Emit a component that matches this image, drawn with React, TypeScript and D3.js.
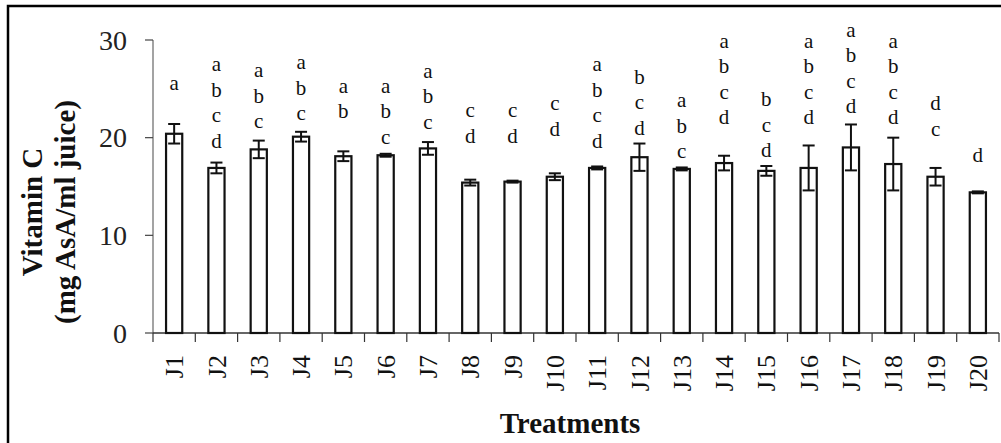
import React from "react";
import * as d3 from "d3";

const categories = ["J1","J2","J3","J4","J5","J6","J7","J8","J9","J10","J11","J12","J13","J14","J15","J16","J17","J18","J19","J20"];
const values = [20.4,16.9,18.8,20.1,18.1,18.2,18.9,15.4,15.5,16.0,16.9,18.0,16.8,17.4,16.6,16.9,19.0,17.3,16.0,14.4];
const errors = [1.0,0.55,0.9,0.5,0.5,0.15,0.65,0.3,0.1,0.35,0.15,1.4,0.15,0.75,0.5,2.3,2.35,2.7,0.9,0.1];
const letters = [
  ["a"],["a","b","c","d"],["a","b","c"],["a","b","c"],["a","b"],["a","b","c"],["a","b","c"],
  ["c","d"],["c","d"],["c","d"],["a","b","c","d"],["b","c","d"],["a","b","c"],["a","b","c","d"],
  ["b","c","d"],["a","b","c","d"],["a","b","c","d"],["a","b","c","d"],["d","c"],["d"],
];
// data-unit height of the centre of the lowest letter of each group
const letterBase = [25.4,19.5,21.5,22.3,22.5,19.9,21.4,20.0,20.0,20.7,19.5,20.8,18.4,21.9,18.5,21.9,23.0,21.9,20.7,18.0];
const yTicks = [0, 10, 20, 30];
const yTitle = ["Vitamin C", "(mg AsA/ml juice)"];
const xTitle = "Treatments";

const W = 1001, H = 443;
const serif = "'Liberation Serif', 'Times New Roman', Times, serif";

export default function App() {
  const x = d3.scaleBand<string>().domain(categories).range([153, 999]).paddingInner(0.57).paddingOuter(0.285);
  const y = d3.scaleLinear().domain([0, 30]).range([333, 40]);
  const step = x.step();
  const bw = x.bandwidth();
  const boundaries = d3.range(categories.length + 1).map((i) => 153 + i * step);
  const lineGap = 25.5;

  return (
    <svg width={W} height={H} style={{ position: "absolute", left: 0, top: 0, background: "#fff" }} fontFamily={serif}>
      <rect x={0} y={0} width={W} height={H} fill="#fff" />
      <path d={`M8,${H} V6 H${W}`} fill="none" stroke="#000" strokeWidth={2.5} />

      {/* y axis */}
      <line x1={153} x2={153} y1={y(30)} y2={y(0)} stroke="#666" strokeWidth={1.2} />
      {yTicks.map((t) => (
        <g key={t}>
          <line x1={145} x2={153} y1={y(t)} y2={y(t)} stroke="#444" strokeWidth={1.2} />
          <text x={127} y={y(t) + 9.5} textAnchor="end" fontSize={28} fill="#222">{t}</text>
        </g>
      ))}

      {/* x axis */}
      <line x1={153} x2={999} y1={y(0)} y2={y(0)} stroke="#333" strokeWidth={1.5} />
      {boundaries.map((bx, i) => (
        <line key={i} x1={bx} x2={bx} y1={y(0)} y2={y(0) + 9} stroke="#333" strokeWidth={1.2} />
      ))}
      {categories.map((c) => (
        <text key={c} transform={`translate(${x(c)! + bw / 2},355) rotate(-90)`} dy="0.35em" textAnchor="end" fontSize={26} fill="#111">{c}</text>
      ))}

      {/* bars */}
      {categories.map((c, i) => {
        const cx = x(c)! + bw / 2;
        const top = y(values[i]);
        const hi = y(values[i] + errors[i]);
        const lo = y(values[i] - errors[i]);
        return (
          <g key={c}>
            <rect x={x(c)! + 1} y={top} width={bw - 2} height={y(0) - top} fill="#fff" stroke="#111" strokeWidth={2.2} />
            <line x1={cx} x2={cx} y1={hi} y2={lo} stroke="#111" strokeWidth={2} />
            <line x1={cx - 6} x2={cx + 6} y1={hi} y2={hi} stroke="#111" strokeWidth={2} />
            <line x1={cx - 6} x2={cx + 6} y1={lo} y2={lo} stroke="#111" strokeWidth={2} />
            {letters[i].map((l, k) => {
              const n = letters[i].length;
              const cy = y(letterBase[i]) - (n - 1 - k) * lineGap;
              return (
                <text key={k} x={cx} y={cy + 5} textAnchor="middle" fontSize={21} fill="#111">{l}</text>
              );
            })}
          </g>
        );
      })}

      {/* titles */}
      <text transform="translate(42,212) rotate(-90)" textAnchor="middle" fontSize={29} fontWeight="bold" fill="#111">{yTitle[0]}</text>
      <text transform="translate(75,212) rotate(-90)" textAnchor="middle" fontSize={29} fontWeight="bold" fill="#111">{yTitle[1]}</text>
      <text x={570} y={433} textAnchor="middle" fontSize={29} fontWeight="bold" fill="#111">{xTitle}</text>
    </svg>
  );
}
